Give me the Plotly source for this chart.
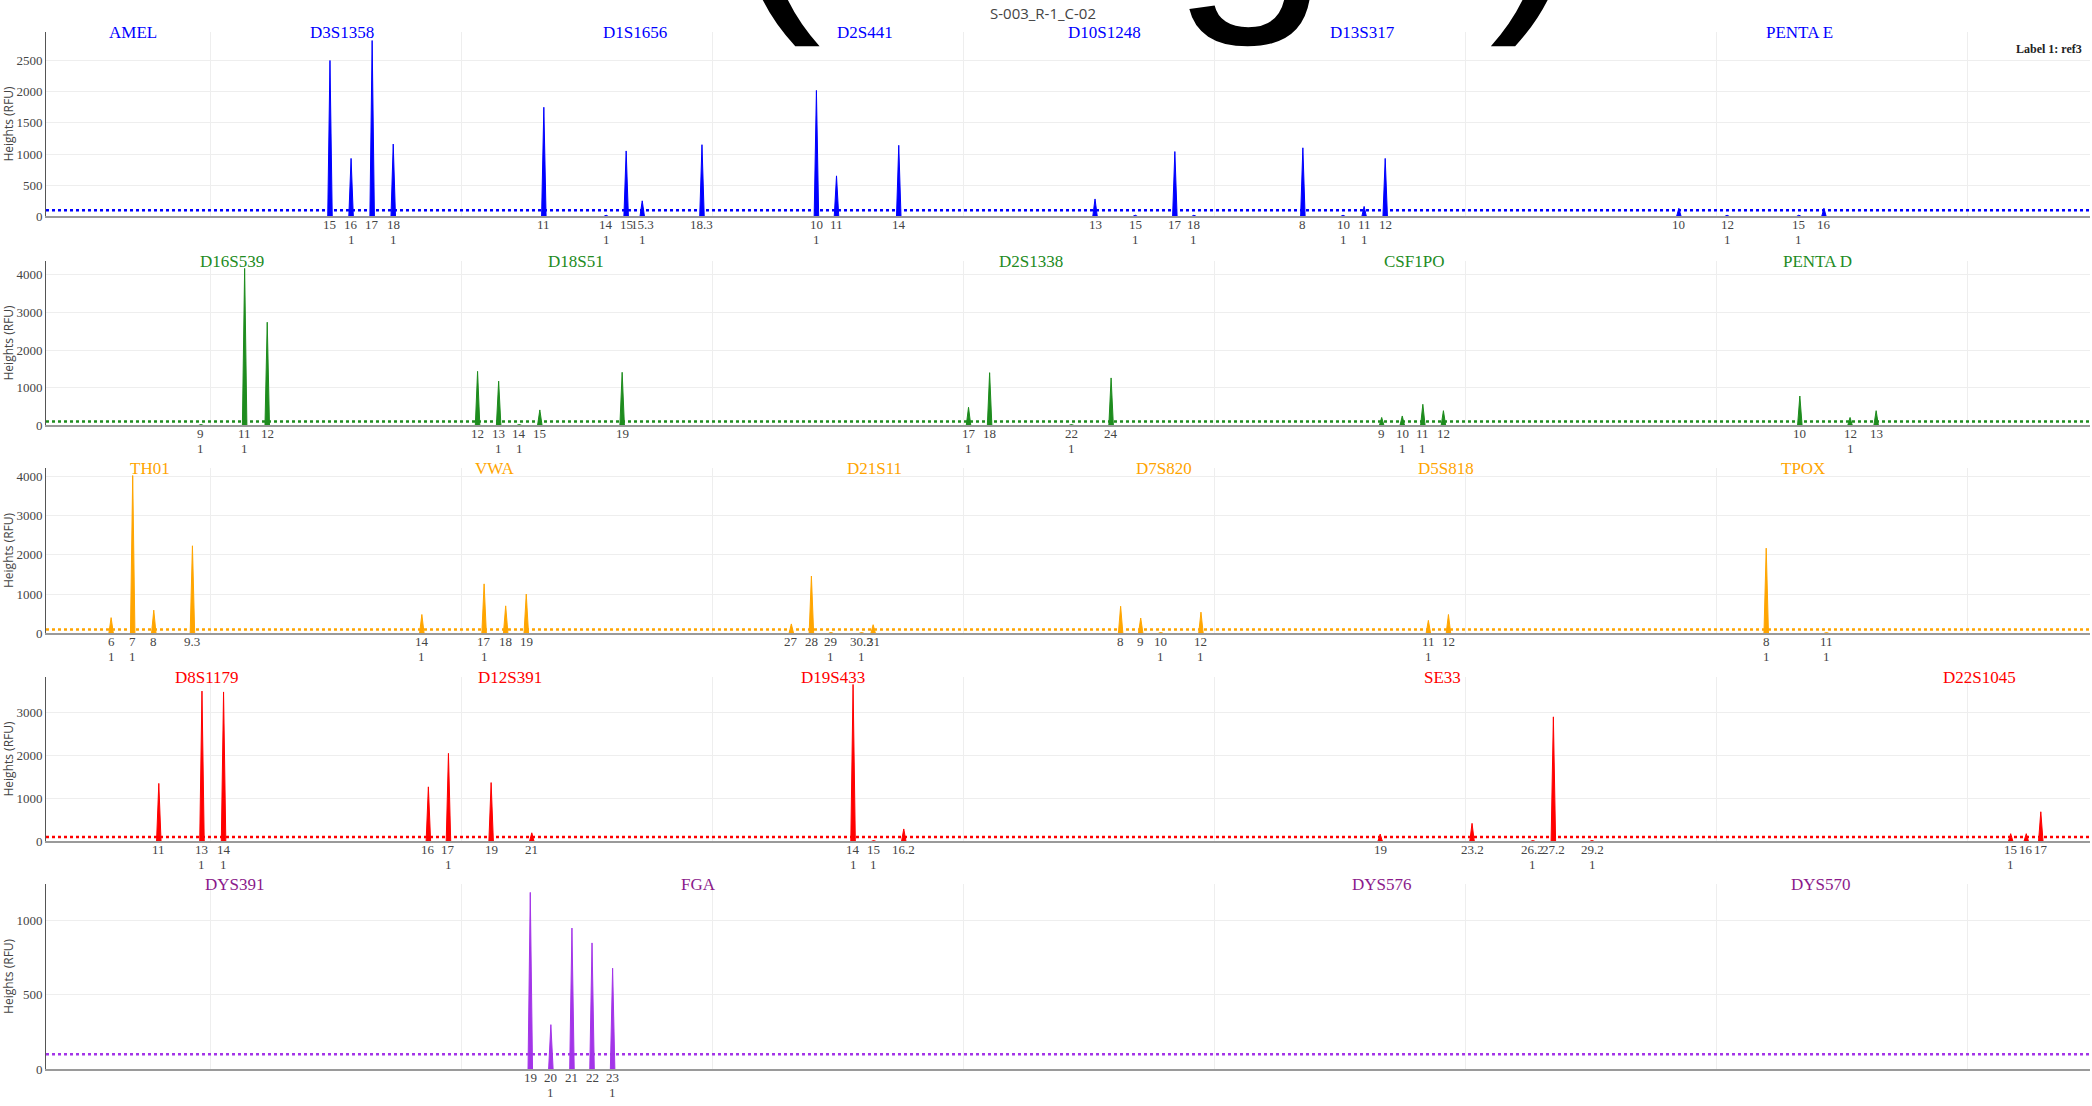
import plotly.graph_objects as go

# ---------------------------------------------------------------- data
X_RANGE = [67.33, 474.5]          # size scale (bp)
THRESHOLD = 100                   # analytical threshold (RFU)

# blue dye
blue_loci = ["AMEL", "D3S1358", "D1S1656", "D2S441", "D10S1248", "D13S317", "PENTA E"]
blue_locus_x = [84.7, 126.3, 184.7, 230.5, 278.1, 329.5, 416.7]
blue_alleles = ["15", "16", "17", "18", "11", "14", "15", "15.3", "18.3", "10", "11", "14",
                "13", "15", "17", "18", "8", "10", "11", "12", "10", "12", "15", "16"]
blue_sizes = [123.9, 128.1, 132.3, 136.5, 166.5, 178.9, 182.9, 186.1, 198.0, 220.8, 224.8, 237.2,
              276.3, 284.3, 292.2, 296.0, 317.7, 325.7, 329.9, 334.1, 392.6, 402.2, 416.5, 421.5]
blue_heights = [2500, 930, 2820, 1160, 1750, 20, 1050, 250, 1150, 2020, 650, 1140,
                280, 20, 1040, 20, 1100, 20, 160, 930, 130, 20, 20, 130]
blue_flags = ["", "1", "", "1", "", "1", "", "1", "", "1", "", "",
              "", "1", "", "1", "", "1", "1", "", "", "1", "1", ""]

# green dye
green_loci = ["D16S539", "D18S51", "D2S1338", "CSF1PO", "PENTA D"]
green_locus_x = [104.4, 172.9, 263.5, 339.8, 420.3]
green_alleles = ["9", "11", "12", "12", "13", "14", "15", "19", "17", "18", "22", "24",
                 "9", "10", "11", "12", "10", "12", "13"]
green_sizes = [98.2, 106.9, 111.4, 153.3, 157.5, 161.6, 165.7, 182.1, 251.1, 255.3, 271.6, 279.5,
               333.4, 337.5, 341.6, 345.7, 416.7, 426.7, 431.9]
green_heights = [20, 4170, 2740, 1435, 1175, 20, 410, 1410, 480, 1400, 20, 1260,
                 210, 250, 560, 390, 780, 210, 390]
green_flags = ["1", "1", "", "", "1", "1", "", "", "1", "", "1", "",
               "", "1", "1", "", "", "1", ""]

# yellow dye
yellow_loci = ["TH01", "VWA", "D21S11", "D7S820", "D5S818", "TPOX"]
yellow_locus_x = [88.1, 156.6, 232.3, 290.0, 346.2, 417.3]
yellow_alleles = ["6", "7", "8", "9.3", "14", "17", "18", "19", "27", "28", "29", "30.2", "31",
                  "8", "9", "10", "12", "11", "12", "8", "11"]
yellow_sizes = [80.3, 84.6, 88.8, 96.5, 142.2, 154.6, 158.9, 163.0, 215.8, 219.8, 223.7, 229.8, 232.1,
                281.4, 285.4, 289.4, 297.4, 342.7, 346.7, 410.0, 422.0]
yellow_heights = [400, 4020, 590, 2230, 480, 1260, 700, 1000, 240, 1460, 20, 20, 220,
                  690, 390, 20, 540, 330, 480, 2170, 20]
yellow_flags = ["1", "1", "", "", "1", "1", "", "", "", "", "1", "1", "",
                "", "", "1", "1", "1", "", "1", "1"]

# red dye
red_loci = ["D8S1179", "D12S391", "D19S433", "SE33", "D22S1045"]
red_locus_x = [99.5, 159.8, 224.2, 345.5, 452.4]
red_alleles = ["11", "13", "14", "16", "17", "19", "21", "14", "15", "16.2",
               "19", "23.2", "26.2", "27.2", "29.2", "15", "16", "17"]
red_sizes = [89.8, 98.4, 102.7, 143.5, 147.5, 156.0, 164.1, 228.1, 232.2, 238.2,
             333.1, 351.4, 363.5, 367.6, 375.3, 458.7, 461.8, 464.7]
red_heights = [1350, 3500, 3480, 1270, 2050, 1370, 200, 3655, 20, 290,
               170, 420, 20, 2900, 20, 180, 180, 690]
red_flags = ["", "1", "1", "", "1", "", "", "1", "1", "",
             "", "", "1", "", "1", "1", "", ""]

# purple dye
purple_loci = ["DYS391", "FGA", "DYS576", "DYS570"]
purple_locus_x = [104.9, 197.3, 333.5, 420.9]
purple_alleles = ["19", "20", "21", "22", "23"]
purple_sizes = [163.8, 167.9, 172.1, 176.1, 180.2]
purple_heights = [1190, 300, 950, 850, 680]
purple_flags = ["", "1", "", "", "1"]

# ---------------------------------------------------------------- styling
dyes = [
    dict(loci=blue_loci, locus_x=blue_locus_x, alleles=blue_alleles, sizes=blue_sizes,
         heights=blue_heights, flags=blue_flags, peak="#0000ff", text="#0000ff",
         domain=[0.8029, 0.9711], dtick=500),
    dict(loci=green_loci, locus_x=green_locus_x, alleles=green_alleles, sizes=green_sizes,
         heights=green_heights, flags=green_flags, peak="#1e8c1e", text="#228b22",
         domain=[0.6126, 0.7627], dtick=1000),
    dict(loci=yellow_loci, locus_x=yellow_locus_x, alleles=yellow_alleles, sizes=yellow_sizes,
         heights=yellow_heights, flags=yellow_flags, peak="#ffa500", text="#ffa500",
         domain=[0.4232, 0.5741], dtick=1000),
    dict(loci=red_loci, locus_x=red_locus_x, alleles=red_alleles, sizes=red_sizes,
         heights=red_heights, flags=red_flags, peak="#ff0000", text="#ff0000",
         domain=[0.2337, 0.3838], dtick=1000),
    dict(loci=purple_loci, locus_x=purple_locus_x, alleles=purple_alleles, sizes=purple_sizes,
         heights=purple_heights, flags=purple_flags, peak="#a335e8", text="#8b1a8b",
         domain=[0.0262, 0.1953], dtick=500),
]

PEAK_HALF_WIDTH = 0.45
SERIF = "Liberation Serif, Times New Roman, serif"
SANS = "Open Sans, Verdana, Arial, sans-serif"

fig = go.Figure()
annotations = []
shapes = []
layout_axes = {}

for i, d in enumerate(dyes, start=1):
    sfx = "" if i == 1 else str(i)
    xa, ya = f"x{sfx}", f"y{sfx}"

    # peaks as narrow filled spikes
    px, py = [], []
    for s, h in zip(d["sizes"], d["heights"]):
        px += [s - PEAK_HALF_WIDTH, s, s + PEAK_HALF_WIDTH, s - PEAK_HALF_WIDTH, None]
        py += [0, h, 0, 0, None]
    fig.add_trace(go.Scatter(
        x=px, y=py, xaxis=xa, yaxis=ya, mode="lines", fill="toself",
        fillcolor=d["peak"], line=dict(color=d["peak"], width=1),
        hoverinfo="skip", showlegend=False))

    # analytical threshold
    shapes.append(dict(type="line", xref="paper", x0=0, x1=1, yref=ya,
                       y0=THRESHOLD, y1=THRESHOLD,
                       line=dict(color=d["peak"], width=2.5, dash="dot")))

    ymax = max(d["heights"]) * 1.05
    layout_axes[f"xaxis{sfx}"] = dict(
        domain=[0, 1], anchor=ya, range=X_RANGE, tickmode="linear", tick0=100, dtick=50,
        showticklabels=False, ticks="", showgrid=True, gridcolor="#eeeeee", gridwidth=1,
        zeroline=False, showline=True, linecolor="#9a9a9a", linewidth=2, fixedrange=True)
    layout_axes[f"yaxis{sfx}"] = dict(
        domain=d["domain"], anchor=xa, range=[0, ymax], tickmode="linear", tick0=0,
        dtick=d["dtick"], showgrid=True, gridcolor="#eeeeee", gridwidth=1, zeroline=False,
        showline=True, linecolor="#555555", linewidth=1, ticks="",
        tickfont=dict(family=SERIF, size=13, color="#444"),
        title=dict(text="Heights (RFU)", font=dict(family=SANS, size=12, color="#444"),
                   standoff=4),
        fixedrange=True)

    # locus names along the top of each panel
    for name, lx in zip(d["loci"], d["locus_x"]):
        annotations.append(dict(
            x=lx, xref=xa, y=1, yref=f"{ya} domain", yanchor="middle", yshift=-1,
            text=name, showarrow=False,
            font=dict(family=SERIF, size=17, color=d["text"])))

    # allele calls and flags under each peak
    for a, s, f in zip(d["alleles"], d["sizes"], d["flags"]):
        annotations.append(dict(
            x=s, xref=xa, y=0, yref=f"{ya} domain", yanchor="middle", yshift=-8.5,
            text=a, showarrow=False, font=dict(family=SERIF, size=13, color="#444")))
        if f:
            annotations.append(dict(
                x=s, xref=xa, y=0, yref=f"{ya} domain", yanchor="middle", yshift=-23.5,
                text=f, showarrow=False, font=dict(family=SERIF, size=13, color="#444")))

# headline (mostly above the page), sample name and label tag
annotations.append(dict(
    x=0.3318, xref="paper", xanchor="left", y=1 - 52 / 1106, yref="paper", yanchor="bottom",
    text="(Page)", showarrow=False,
    font=dict(family="Liberation Sans, Arial, sans-serif", size=286, color="#000")))
annotations.append(dict(
    x=0.4878, xref="paper", y=1 - 13 / 1106, yref="paper", yanchor="middle",
    text="S-003_R-1_C-02", showarrow=False,
    font=dict(family=SANS, size=15, color="#444")))
annotations.append(dict(
    x=0.997, xref="paper", xanchor="right", y=1 - 49 / 1106, yref="paper", yanchor="middle",
    text="<b>Label 1: ref3</b>", showarrow=False,
    font=dict(family=SERIF, size=12, color="#222")))

fig.update_layout(
    width=2092, height=1106,
    margin=dict(l=46, r=2, t=0, b=0),
    paper_bgcolor="white", plot_bgcolor="white",
    showlegend=False,
    annotations=annotations, shapes=shapes,
    **layout_axes)

fig.write_html("out.html", config={"displayModeBar": False})
